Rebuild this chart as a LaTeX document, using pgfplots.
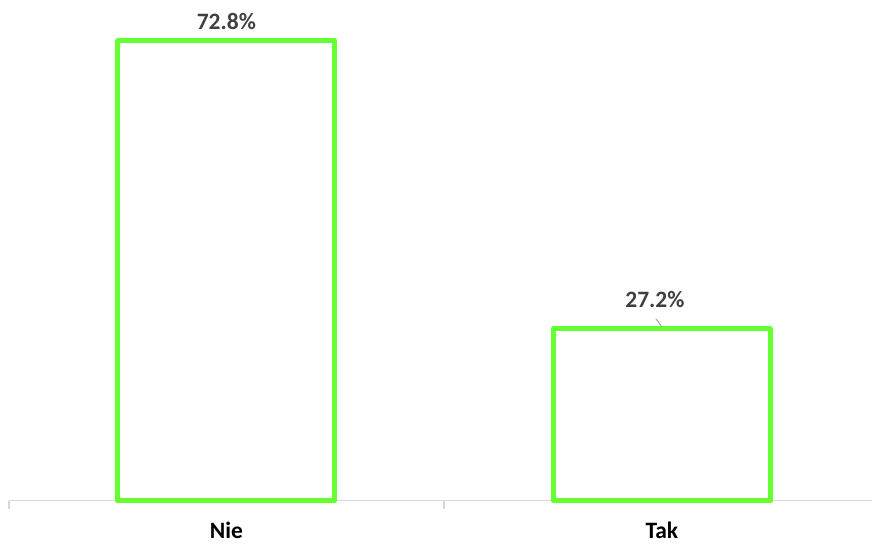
\documentclass[border=0pt]{standalone}
\usepackage{pgfplots}
\pgfplotsset{compat=1.18}
\usepackage{fontspec}
\setmainfont{Carlito}
\definecolor{bargreen}{HTML}{66FF33}
\definecolor{lblgray}{HTML}{404040}
\definecolor{axgray}{HTML}{D9D9D9}
\begin{document}
\begin{tikzpicture}
\begin{axis}[
  name=ax,
  scale only axis,
  width=864bp, height=501bp,
  xmin=-0.499, xmax=1.483,
  ymin=0, ymax=79.27,
  axis x line=bottom,
  axis y line=none,
  axis line style={-, draw=axgray, line width=1.5bp},
  xtick={0,1},
  xticklabels={Nie,Tak},
  major tick length=0pt,
  x tick label style={font=\fontsize{23.5bp}{27bp}\selectfont\bfseries, text=black, yshift=-18bp},
  extra x ticks={-0.499,0.5},
  extra x tick labels={},
  extra x tick style={major tick length=8bp, tick style={draw=axgray, line width=1.5bp}, xtick pos=left},
  tick align=outside,
  /pgf/number format/assume math mode=true,
  ybar, bar shift=0pt, bar width=217bp,
  clip=false,
]
\addplot[draw=bargreen, fill=white, line width=5bp, line join=round,
  nodes near coords={\pgfmathprintnumber[fixed,precision=1,fixed zerofill,assume math mode=true]{\pgfplotspointmeta}\%},
  every node near coord/.append style={font=\fontsize{23.5bp}{27bp}\selectfont\bfseries, text=lblgray, anchor=south, yshift=5bp}]
  coordinates {(0,72.8)};
\addplot[draw=bargreen, fill=white, line width=5bp, line join=round,
  nodes near coords={\pgfmathprintnumber[fixed,precision=1,fixed zerofill,assume math mode=true]{\pgfplotspointmeta}\%},
  every node near coord/.append style={font=\fontsize{23.5bp}{27bp}\selectfont\bfseries, text=lblgray, anchor=south, xshift=-7bp, yshift=15bp}]
  coordinates {(1,27.2)};
\draw[gray!70, line width=1bp] ([xshift=-6bp,yshift=10bp]axis cs:1,27.2) -- ([yshift=2bp]axis cs:1,27.2);
\end{axis}
\path[use as bounding box] ([xshift=-9bp]ax.south west) ++(0,-44bp) rectangle (ax.north east);
\end{tikzpicture}
\end{document}
